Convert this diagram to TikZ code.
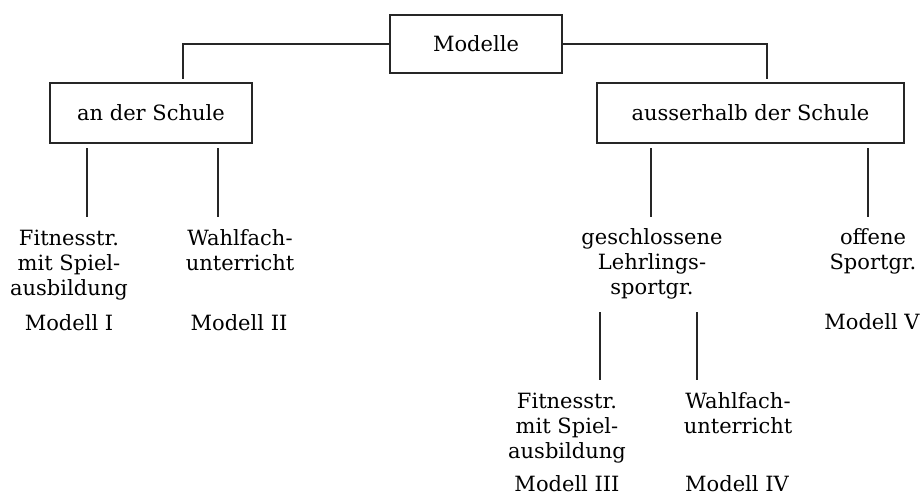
\documentclass[tikz,border=0pt]{standalone}
\usepackage{fontspec}
\setmainfont{DejaVu Serif}
\begin{document}
\begin{tikzpicture}[x=1pt,y=-1pt,
  ink/.style={draw=black!85, line width=1.4pt},
  box/.style={ink, inner sep=0pt, minimum height=60pt},
  conn/.style={draw=black!85, line width=1.2pt},
  lbl/.style={align=center, inner sep=0pt, anchor=base, text=black},
  every node/.style={font=\fontsize{21}{25}\selectfont}]
\useasboundingbox (0,0) rectangle (922,496);
% boxes
\node[box, minimum width=172pt, minimum height=58pt] (modelle) at (476,44) {Modelle};
\node[box, minimum width=202pt] (schule) at (151,113) {an der Schule};
\node[box, minimum width=307pt] (aussen) at (750.5,113) {ausserhalb der Schule};
% labels (base anchor = baseline of the last line)
\node[lbl] (fit1) at (69,295) {Fitnesstr.\\mit Spiel-\\ausbildung};
\node[lbl] (wahl1) at (240,270) {Wahlfach-\\unterricht};
\node[lbl] (mod1) at (69,330) {Modell I};
\node[lbl] (mod2) at (239,330) {Modell II};
\node[lbl] (gesch) at (652,294) {geschlossene\\Lehrlings-\\sportgr.};
\node[lbl] (offen) at (873,269) {offene\\Sportgr.};
\node[lbl] (mod5) at (872,329) {Modell V};
\node[lbl] (fit2) at (567,458) {Fitnesstr.\\mit Spiel-\\ausbildung};
\node[lbl] (wahl2) at (738,433) {Wahlfach-\\unterricht};
\node[lbl] (mod3) at (567,491) {Modell III};
\node[lbl] (mod4) at (737,491) {Modell IV};
% connector coordinates
\coordinate (lt) at (183,79);
\coordinate (rt) at (767,79);
\coordinate (s1a) at (87,148);  \coordinate (s1b) at (87,217);
\coordinate (s2a) at (218,148); \coordinate (s2b) at (218,217);
\coordinate (a1a) at (651,148); \coordinate (a1b) at (651,217);
\coordinate (a2a) at (868,148); \coordinate (a2b) at (868,217);
\coordinate (g1a) at (600,312); \coordinate (g1b) at (600,380);
\coordinate (g2a) at (697,312); \coordinate (g2b) at (697,380);
% connectors
\draw[conn] (modelle.west) -| (lt);
\draw[conn] (modelle.east) -| (rt);
\draw[conn] (s1a) -- (s1b);
\draw[conn] (s2a) -- (s2b);
\draw[conn] (a1a) -- (a1b);
\draw[conn] (a2a) -- (a2b);
\draw[conn] (g1a) -- (g1b);
\draw[conn] (g2a) -- (g2b);
\end{tikzpicture}
\end{document}
